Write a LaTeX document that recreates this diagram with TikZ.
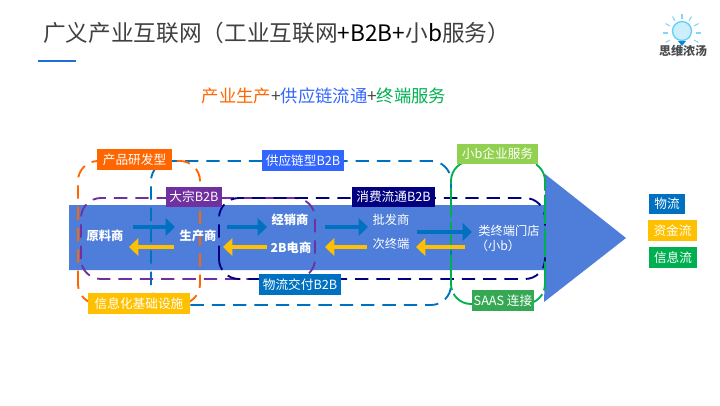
\documentclass[tikz,border=0pt]{standalone}
\usepackage{fontspec}
\setmainfont{Noto Sans CJK SC}
\usetikzlibrary{arrows.meta}
\definecolor{bandblue}{RGB}{78,126,218}
\definecolor{wuliu}{RGB}{0,112,192}
\definecolor{zijin}{RGB}{255,192,0}
\definecolor{xinxi}{RGB}{0,176,80}
\definecolor{yanfacol}{RGB}{255,102,0}
\definecolor{gongyingcol}{RGB}{51,102,255}
\definecolor{dazongcol}{RGB}{112,48,160}
\definecolor{xiaofeicol}{RGB}{0,0,128}
\definecolor{qiyecol}{RGB}{146,208,80}
\definecolor{saascol}{RGB}{52,168,83}
\tikzset{
  tagbox/.style={fill=#1,text=white,inner sep=0pt,font=\fontsize{9.5}{11}\selectfont,anchor=center},
  onband/.style={text=white,inner sep=0.75pt,font=\fontsize{9.2}{11}\selectfont,anchor=center},
  region/.style={rounded corners=15pt,line width=1.4pt,dash pattern={on 10pt off 6pt}},
  wuliuarrow/.style={draw=wuliu,line width=3.5pt,-{Triangle[length=7pt,width=13pt]}},
  zijinarrow/.style={draw=zijin,line width=3.5pt,-{Triangle[length=7pt,width=13pt]}}
}
\begin{document}
\begin{tikzpicture}[x=0.75pt,y=0.75pt,yscale=-1,xscale=1]
\useasboundingbox (0,0) rectangle (720,405);

%Title rule
\draw [color={rgb, 255:red, 30; green, 110; blue, 215 }, line width=1.2pt] (38,61) -- (76,61) ;

%Shape: Band and arrow head
\fill [bandblue] (69,205) -- (545,205) -- (545,174) -- (626,238) -- (544,302) -- (545,270) -- (69,270) -- cycle ;

%Dashed regions
\draw [region, color=wuliu] (151,305) rectangle (451,161) ;
\draw [region, color=yanfacol] (78,304) rectangle (200,161) ;
\draw [region, color=dazongcol] (81,279) rectangle (315,198) ;
\draw [region, color=xiaofeicol] (219,279) rectangle (545,198) ;
\draw [region, color=xinxi, dash pattern={on 22pt off 3pt}] (451,304) rectangle (545,161) ;

% Text Node
\node (title) at (43,33) [anchor=west,inner sep=0pt,text=black!75,font=\fontsize{17}{20}\selectfont] {广义产业互联网（工业互联网\textcolor{black}{+B2B+}小\textcolor{black}{b}服务）};
% Text Node
\node (subtitle) at (324,96) [inner sep=0pt,font=\fontsize{13}{15}\selectfont] {\textcolor{yanfacol}{产业生产}\textcolor{black!70}{+}\textcolor{gongyingcol}{供应链流通}\textcolor{black!70}{+}\textcolor{xinxi}{终端服务}};

% Tag boxes
\node (yanfa) at (134.5,159.5) [tagbox=yanfacol,minimum width=56.25pt,minimum height=15.75pt] {产品研发型};
\node (gongying) at (303,160.5) [tagbox=gongyingcol,minimum width=61.5pt,minimum height=15.75pt] {供应链型B2B};
\node (dazong) at (194,197) [tagbox=dazongcol,minimum width=42pt,minimum height=15pt] {大宗B2B};
\node (xiaofei) at (393.5,197) [tagbox=xiaofeicol,minimum width=62.25pt,minimum height=15pt] {消费流通B2B};
\node (qiye) at (497.5,154) [tagbox=qiyecol,minimum width=60.75pt,minimum height=15pt] {小b企业服务};
\node (jichu) at (139,303.5) [tagbox=zijin,minimum width=76.5pt,minimum height=15.75pt] {信息化基础设施};
\node (jiaofu) at (300,284.5) [tagbox=wuliu,minimum width=61.5pt,minimum height=15.75pt] {物流交付B2B};
\node (saas) at (503,300.5) [tagbox=saascol,minimum width=46.5pt,minimum height=15.75pt] {SAAS 连接};

% Legend
\node (lgwuliu) at (667,204) [tagbox=wuliu,minimum width=27pt,minimum height=15pt] {物流};
\node (lgzijin) at (672.5,230.5) [tagbox=zijin,minimum width=36.75pt,minimum height=15.75pt] {资金流};
\node (lgxinxi) at (673,257.5) [tagbox=xinxi,minimum width=36pt,minimum height=15.75pt] {信息流};

% Text Node
\node (yuanliao) at (105,236) [onband] {\textbf{原料商}};
\node (shengchan) at (198,236) [onband] {\textbf{生产商}};
\node (jingxiao) at (290,220) [onband] {\textbf{经销商}};
\node (dianshang) at (291,248) [onband] {\textbf{2B电商}};
\node (pifa) at (391,220) [onband] {批发商};
\node (cizhong) at (391,244) [onband] {次终端};
\node (leizhong) at (509,231) [onband] {类终端门店};
\node (xiaob) at (498,246) [onband] {（小b）};

% Arrow ends
\coordinate (w1s) at (133,227); \coordinate (w1e) at (175,227);
\coordinate (w2s) at (227,227); \coordinate (w2e) at (267,227);
\coordinate (w3s) at (325,227); \coordinate (w3e) at (368,227);
\coordinate (w4s) at (417,232); \coordinate (w4e) at (472,232);
\coordinate (z1s) at (174,247); \coordinate (z1e) at (129,247);
\coordinate (z2s) at (267,247); \coordinate (z2e) at (223,247);
\coordinate (z3s) at (367,247); \coordinate (z3e) at (325,247);
\coordinate (z4s) at (465,247); \coordinate (z4e) at (416,247);

%Straight Lines
\foreach \n in {1,2,3,4} {
  \draw [wuliuarrow] (w\n s) -- (w\n e) ;
  \draw [zijinarrow] (z\n s) -- (z\n e) ;
}

%Logo
\foreach \a in {0,30,...,330} {
  \draw [color=cyan!50, line width=0.8pt] (682,33) ++(\a:14) -- ++(\a:5) ;
}
\draw [color=cyan!60, fill=cyan!20, line width=1pt] (682,31) circle [radius=9.5] ;
\fill [color=cyan!70!blue] (678,41) -- (686,41) -- (682,46) -- cycle ;
\node (logotext) at (683,51) [inner sep=0pt,text=black!70,font=\bfseries\fontsize{9}{10}\selectfont] {思维浓汤};
\end{tikzpicture}
\end{document}
